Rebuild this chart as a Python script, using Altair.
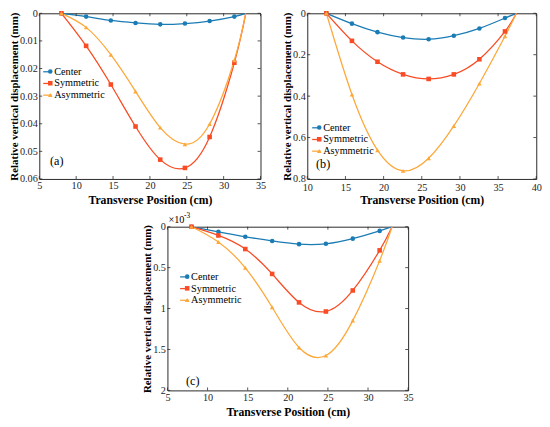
import altair as alt
import pandas as pd

FONT = "Liberation Serif"
INK = "#262626"

SERIES = ["Center", "Symmetric", "Asymmetric"]
COLORS = ["#1b7cb5", "#f94c25", "#fda83a"]
SHAPES = ["circle", "square", "triangle-up"]

# ---------------- panel (a)  (mm)
X_A = [8, 11.35, 14.7, 18.05, 21.4, 24.75, 28.1, 31.45, 33.0]
CENTER_A = [0, 0.0012, 0.0026, 0.0035, 0.0040, 0.0037, 0.0028, 0.0012, 0]
SYM_A = [0, 0.0118, 0.0258, 0.0410, 0.0530, 0.0560, 0.0448, 0.0179, 0]
ASYM_A = [0, 0.0051, 0.0150, 0.0283, 0.0414, 0.0474, 0.0401, 0.0170, 0]
XTICKS_A = [5, 10, 15, 20, 25, 30, 35]
YTICKS_A = [0, 0.01, 0.02, 0.03, 0.04, 0.05, 0.06]

# ---------------- panel (b)  (mm)
X_B = [12.5, 15.85, 19.2, 22.55, 25.9, 29.2, 32.55, 35.9, 37.4]
CENTER_B = [0, 0.050, 0.091, 0.117, 0.125, 0.108, 0.073, 0.023, 0]
SYM_B = [0, 0.133, 0.234, 0.295, 0.317, 0.295, 0.222, 0.0875, 0]
ASYM_B = [0, 0.392, 0.661, 0.761, 0.700, 0.544, 0.339, 0.111, 0]
XTICKS_B = [10, 15, 20, 25, 30, 35, 40]
YTICKS_B = [0, 0.2, 0.4, 0.6, 0.8]

# ---------------- panel (c)  (x 10^-3 mm)
X_C = [8, 11.35, 14.7, 18.05, 21.4, 24.75, 28.1, 31.45, 33.0]
CENTER_C = [0, 0.063, 0.123, 0.174, 0.213, 0.209, 0.146, 0.051, 0]
SYM_C = [0, 0.107, 0.273, 0.577, 0.925, 1.036, 0.779, 0.289, 0]
ASYM_C = [0, 0.186, 0.502, 0.984, 1.475, 1.574, 1.147, 0.415, 0]
XTICKS_C = [5, 10, 15, 20, 25, 30, 35]
YTICKS_C = [0, 0.5, 1, 1.5, 2]

X_TITLE = "Transverse Position (cm)"
Y_TITLE = "Relative vertical displacement (mm)"
TICK_LEN = 3


def build_frame(x, series_values):
    rows = []
    for name, vals in zip(SERIES, series_values):
        for i, (xv, yv) in enumerate(zip(x, vals)):
            rows.append({"x": xv, "y": yv, "series": name, "marker": i < len(x) - 1})
    return pd.DataFrame(rows)


def panel(x, series_values, xticks, yticks, w, h, tag, tag_pos, leg_pos,
          exponent=False, xlab_pad=2, xtitle_pad=4):
    df = build_frame(x, series_values)
    pts = df[df["marker"]].reset_index(drop=True)
    xs = alt.Scale(domain=[xticks[0], xticks[-1]], nice=False, zero=False)
    ys = alt.Scale(domain=[yticks[0], yticks[-1]], nice=False, zero=False, reverse=True)
    xax = alt.Axis(values=xticks, format="d", ticks=False, grid=False, domain=False,
                   title=X_TITLE, labelPadding=xlab_pad, titlePadding=xtitle_pad,
                   labelFlush=False, labelOverlap=False)
    yax = alt.Axis(values=yticks, format="~g", ticks=False, grid=False, domain=False,
                   title=Y_TITLE, labelPadding=2, titlePadding=0, labelFlush=False,
                   labelOverlap=False, titleFontSize=11.2)
    lx, ly = leg_pos

    line_leg = alt.Legend(orient="none", legendX=lx, legendY=ly, title=None,
                          symbolType="stroke", symbolSize=81, symbolStrokeWidth=1.3,
                          labelFont=FONT, labelFontSize=10.5, labelColor="black",
                          labelOffset=1.3, rowPadding=1, padding=0)
    pt_leg = alt.Legend(orient="none", legendX=lx + 3, legendY=ly, title=None,
                        symbolSize=22, symbolStrokeWidth=0, labelFont=FONT,
                        labelFontSize=10.5, labelExpr="' '", labelColor="white",
                        labelOffset=1.3, rowPadding=1, padding=0)

    lines = alt.Chart(df).mark_line(interpolate="natural", strokeWidth=1.3, clip=True).encode(
        x=alt.X("x:Q", scale=xs, axis=xax),
        y=alt.Y("y:Q", scale=ys, axis=yax),
        stroke=alt.Stroke("series:N", sort=SERIES, scale=alt.Scale(range=COLORS),
                          legend=line_leg),
    )
    points = alt.Chart(pts).mark_point(filled=True, size=22, opacity=1).encode(
        x=alt.X("x:Q", scale=xs, axis=xax),
        y=alt.Y("y:Q", scale=ys, axis=yax),
        color=alt.Color("series:N", scale=alt.Scale(domain=SERIES, range=COLORS), legend=pt_leg),
        shape=alt.Shape("series:N", scale=alt.Scale(domain=SERIES, range=SHAPES), legend=pt_leg),
    )

    tx = pd.DataFrame({"x": xticks})
    ty = pd.DataFrame({"y": yticks})
    rule = dict(color=INK, strokeWidth=0.8)
    t_bottom = alt.Chart(tx).mark_rule(**rule).encode(
        x=alt.X("x:Q", scale=xs, axis=xax), y=alt.value(h), y2=alt.value(h - TICK_LEN))
    t_top = alt.Chart(tx).mark_rule(**rule).encode(
        x=alt.X("x:Q", scale=xs, axis=xax), y=alt.value(0), y2=alt.value(TICK_LEN))
    t_left = alt.Chart(ty).mark_rule(**rule).encode(
        y=alt.Y("y:Q", scale=ys, axis=yax), x=alt.value(0), x2=alt.value(TICK_LEN))
    t_right = alt.Chart(ty).mark_rule(**rule).encode(
        y=alt.Y("y:Q", scale=ys, axis=yax), x=alt.value(w), x2=alt.value(w - TICK_LEN))

    label = alt.Chart(pd.DataFrame({"t": [tag]})).mark_text(
        font=FONT, fontSize=12.5, align="left", baseline="middle", color="black").encode(
        text="t:N", x=alt.value(tag_pos[0]), y=alt.value(tag_pos[1]))

    layers = [lines, points, t_bottom, t_top, t_left, t_right, label]
    if exponent:
        e1 = alt.Chart(pd.DataFrame({"t": ["\u00d710"]})).mark_text(
            font=FONT, fontSize=10.5, align="left", baseline="alphabetic", color="black").encode(
            text="t:N", x=alt.value(1), y=alt.value(-4))
        e2 = alt.Chart(pd.DataFrame({"t": ["-3"]})).mark_text(
            font=FONT, fontSize=7.5, align="left", baseline="alphabetic", color="black").encode(
            text="t:N", x=alt.value(17), y=alt.value(-9))
        layers += [e1, e2]
    return alt.layer(*layers).properties(width=w, height=h)


pa = panel(X_A, [CENTER_A, SYM_A, ASYM_A], XTICKS_A, YTICKS_A, 227, 170,
           "(a)", (11, 152), (3, 54.5))
pb = panel(X_B, [CENTER_B, SYM_B, ASYM_B], XTICKS_B, YTICKS_B, 235, 170,
           "(b)", (9, 155), (4, 112), xlab_pad=4, xtitle_pad=2)
pc = panel(X_C, [CENTER_C, SYM_C, ASYM_C], XTICKS_C, YTICKS_C, 247, 168,
           "(c)", (19, 158), (12, 46), exponent=True)

top = alt.hconcat(pa, pb, spacing=15).resolve_scale(
    color="independent", shape="independent", stroke="independent")
chart = alt.vconcat(top, pc, spacing=5, center=True).resolve_scale(
    color="independent", shape="independent", stroke="independent"
).properties(
    padding={"left": 0, "top": -6, "right": 0, "bottom": 0}
).configure_view(
    stroke=INK, strokeWidth=1
).configure_axis(
    labelFont=FONT, labelFontSize=10.5, labelColor=INK,
    titleFont=FONT, titleFontSize=12, titleFontWeight="bold", titleColor="black"
).configure_legend(
    labelFont=FONT, labelFontSize=10.5
)

chart.save("out.html", embed_options={"renderer": "svg", "actions": False})
